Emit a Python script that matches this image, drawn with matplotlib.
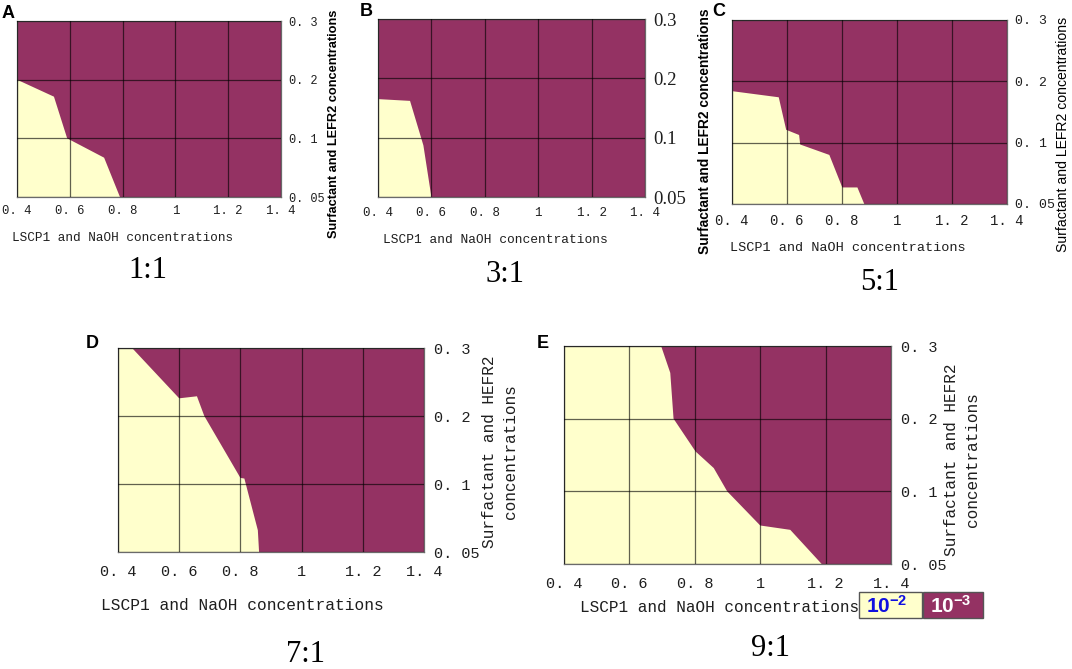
import numpy as np
import matplotlib
matplotlib.use("Agg")
import matplotlib.pyplot as plt
from matplotlib import font_manager
from matplotlib.patches import Rectangle

# ---------------- data ----------------
x_ticks = [0.4, 0.6, 0.8, 1.0, 1.2, 1.4]
x_tick_labels = ["0. 4", "0. 6", "0. 8", "1", "1. 2", "1. 4"]
y_levels = [0.05, 0.1, 0.2, 0.3]
y_tick_labels = ["0. 05", "0. 1", "0. 2", "0. 3"]
y_tick_labels_b = ["0.05", "0.1", "0.2", "0.3"]

# boundary between the 10^-2 region (lower left) and the 10^-3 region
a_x = [0.40, 0.54, 0.59, 0.73, 0.79]
a_y = [0.200, 0.171, 0.100, 0.0835, 0.05]
b_x = [0.40, 0.52, 0.57, 0.60]
b_y = [0.165, 0.162, 0.0935, 0.05]
c_x = [0.40, 0.57, 0.597, 0.644, 0.648, 0.754, 0.801, 0.856, 0.881]
c_y = [0.184, 0.174, 0.121, 0.1125, 0.0985, 0.090, 0.0635, 0.0635, 0.05]
d_x = [0.40, 0.446, 0.60, 0.658, 0.682, 0.80, 0.813, 0.857, 0.861]
d_y = [0.30, 0.30, 0.226, 0.229, 0.200, 0.109, 0.108, 0.066, 0.05]
e_x = [0.40, 0.697, 0.725, 0.735, 0.802, 0.858, 0.899, 1.00, 1.092, 1.188]
e_y = [0.30, 0.30, 0.263, 0.200, 0.155, 0.132, 0.100, 0.0765, 0.0735, 0.05]

ratios = ["1:1", "3:1", "5:1", "7:1", "9:1"]
letters = ["A", "B", "C", "D", "E"]
legend_labels = [r"$\mathbf{10^{-2}}$", r"$\mathbf{10^{-3}}$"]

# ---------------- style ----------------
YELLOW = "#FFFFCC"
PURPLE = "#943263"

names = {f.name for f in font_manager.fontManager.ttflist}
MONO = "Liberation Mono" if "Liberation Mono" in names else "DejaVu Sans Mono"
SERIF = "Liberation Serif" if "Liberation Serif" in names else "DejaVu Serif"
if "Liberation Sans Narrow" in names:
    NARROW = dict(family="Liberation Sans Narrow")
    NSCALE = 1.0
else:
    NARROW = dict(family="Liberation Sans", stretch="condensed")
    NSCALE = 0.85
ARIAL = "Liberation Sans" if "Liberation Sans" in names else "DejaVu Sans"
plt.rcParams["mathtext.fontset"] = "custom"
plt.rcParams["mathtext.bf"] = ARIAL + ":bold"
plt.rcParams["mathtext.rm"] = ARIAL

W, H = 1072, 669
fig = plt.figure(figsize=(W / 100, H / 100), dpi=100)


def box(x0, y0, x1, y1):
    return [x0 / W, 1 - y1 / H, (x1 - x0) / W, (y1 - y0) / H]


def fx(x):
    return x / W


def fy(y):
    return 1 - y / H


fwd = lambda v: np.interp(v, y_levels, [0, 1, 2, 3])
inv = lambda v: np.interp(v, [0, 1, 2, 3], y_levels)

TXT = "#1e1e1e"


def panel(rect, bx, by, tick_fs, xpad, ypad, ylabels, yfont, yfs):
    ax = fig.add_axes(box(*rect))
    ax.set_yscale("function", functions=(fwd, inv))
    ax.set_xlim(0.4, 1.4)
    ax.set_ylim(0.05, 0.3)
    ax.set_facecolor(PURPLE)
    ax.fill(list(bx) + [0.4], list(by) + [0.05], color=YELLOW, lw=0, zorder=1)
    ax.set_xticks(x_ticks)
    ax.set_xticklabels(x_tick_labels, family=MONO, fontsize=tick_fs)
    ax.set_yticks(y_levels)
    ax.set_yticklabels(ylabels, family=yfont, fontsize=yfs)
    ax.yaxis.tick_right()
    for lab in ax.get_yticklabels():
        lab.set_horizontalalignment("left")
    ax.tick_params(axis="x", length=0, pad=xpad, colors=TXT)
    ax.tick_params(axis="y", length=0, pad=ypad, colors=TXT)
    ax.set_axisbelow(False)
    ax.grid(True, color="black", alpha=0.62, lw=0.9)
    for s in ax.spines.values():
        s.set_color("#6a6a6a")
        s.set_linewidth(0.9)
    return ax


# ---- panel A
panel((17, 21, 281, 197), a_x, a_y, 8.8, 6, 6, y_tick_labels, MONO, 8.6)
fig.text(fx(12), fy(238), "LSCP1 and NaOH concentrations", family=MONO,
         fontsize=9.2, ha="left", va="center", color=TXT)
fig.text(fx(334), fy(124), "Surfactant and LEFR2 concentrations", rotation=90,
         fontsize=10.8 * NSCALE, weight="bold", ha="center", va="center", **NARROW)

# ---- panel B
panel((378, 19, 645, 197), b_x, b_y, 9, 7, 6, y_tick_labels_b, SERIF, 13.5)
fig.text(fx(383), fy(240), "LSCP1 and NaOH concentrations", family=MONO,
         fontsize=9.3, ha="left", va="center", color=TXT)
fig.text(fx(705), fy(131), "Surfactant and LEFR2 concentrations", rotation=90,
         fontsize=11.7 * NSCALE, weight="bold", ha="center", va="center", **NARROW)

# ---- panel C
panel((732, 20, 1007, 204), c_x, c_y, 10, 7, 6, y_tick_labels, MONO, 9.5)
fig.text(fx(730), fy(248), "LSCP1 and NaOH concentrations", family=MONO,
         fontsize=9.7, ha="left", va="center", color=TXT)
fig.text(fx(1063), fy(134), "Surfactant and LEFR2 concentrations", rotation=90,
         fontsize=11.9 * NSCALE, ha="center", va="center", **NARROW)

# ---- panel D
panel((118, 348, 424, 552), d_x, d_y, 11, 9, 7, y_tick_labels, MONO, 11)
fig.text(fx(101), fy(606), "LSCP1 and NaOH concentrations", family=MONO,
         fontsize=11.7, ha="left", va="center", color=TXT)
fig.text(fx(500), fy(452), "Surfactant and HEFR2\nconcentrations", rotation=90,
         family=MONO, fontsize=11.6, ha="center", va="center",
         linespacing=1.45, color=TXT)

# ---- panel E
panel((564, 346, 891, 564), e_x, e_y, 11, 9, 7, y_tick_labels, MONO, 11)
fig.text(fx(580), fy(607), "LSCP1 and NaOH concentrations", family=MONO,
         fontsize=11.5, ha="left", va="center", color=TXT)
fig.text(fx(962), fy(460), "Surfactant and HEFR2\nconcentrations", rotation=90,
         family=MONO, fontsize=11.6, ha="center", va="center",
         linespacing=1.45, color=TXT)

# ---- legend (below panel E)
leg_cols = [YELLOW, PURPLE]
leg_text_cols = ["#1010e0", "white"]
leg_boxes = [(859, 592, 922, 618), (923, 592, 983, 618)]
for (x0, y0, x1, y1), fc, tc, lab in zip(leg_boxes, leg_cols, leg_text_cols, legend_labels):
    fig.patches.append(Rectangle((fx(x0), fy(y1)), (x1 - x0) / W, (y1 - y0) / H,
                                 transform=fig.transFigure, facecolor=fc,
                                 edgecolor="#555555", lw=1.0))
    fig.text(fx(x0 + 7), fy((y0 + y1) / 2 + 1), lab, fontsize=15, color=tc,
             ha="left", va="center")

# ---- titles and panel letters
title_pos = [(148, 270), (505, 275), (880, 283), (306, 655), (771, 648)]
letter_pos = [(8, 13), (366, 12), (719, 12), (92, 344), (543, 344)]
for t, (x, y) in zip(ratios, title_pos):
    fig.text(fx(x), fy(y), t, family=SERIF, fontsize=22, ha="center", va="center")
for l, (x, y) in zip(letters, letter_pos):
    fig.text(fx(x), fy(y), l, family=ARIAL, weight="bold", fontsize=13,
             ha="center", va="center")

fig.savefig("out.png", dpi=100)
